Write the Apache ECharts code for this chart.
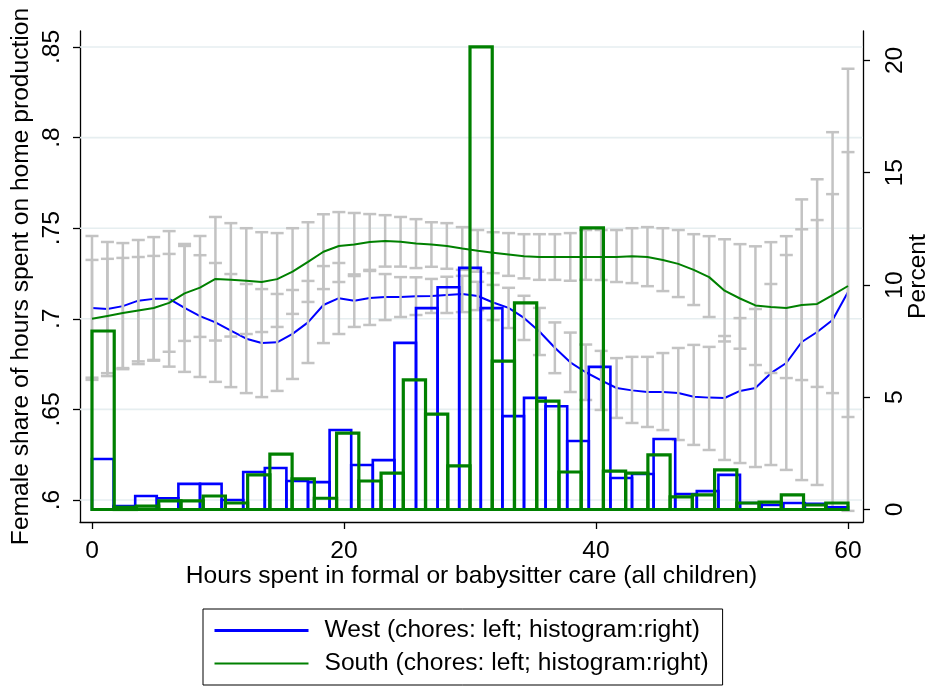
<!DOCTYPE html>
<html>
<head>
<meta charset="utf-8">
<script src="https://cdn.jsdelivr.net/npm/echarts@6/dist/echarts.min.js"></script>
<style>
  html, body { margin: 0; padding: 0; background: #fff; }
  #chart { width: 929px; height: 686px; }
</style>
</head>
<body>
<div id="chart"></div>
<script>
// Local polynomial fits of the female share of chores, evaluated on a 50-point grid over 0-60 hours
const gridPoints = 50;
const gridMax = 60;
const fitHours = Array.from({ length: gridPoints }, (_, i) => gridMax * i / (gridPoints - 1));

const westFit = [.706, .7054, .707, .710, .711, .711, .706, .7015, .698, .6935,
  .689, .6866, .687, .6917, .698, .7076, .7114, .710, .7115, .712,
  .712, .7125, .7126, .7132, .7137, .7126, .709, .706, .7005, .693,
  .684, .676, .6705, .666, .6618, .6605, .6596, .6596, .659, .657,
  .6565, .6563, .6602, .6618, .670, .6756, .6872, .6927, .6993, .7148];
const westLo = [.6663, .6684, .6722, .6765, .6769, .6736, .6707, .6679, .6652, .6623,
  .659, .6568, .6602, .6668, .6756, .6866, .6916, .6955, .6966, .6993,
  .701, .7021, .7032, .7032, .7037, .7048, .6993, .6949, .6883, .680,
  .670, .6596, .6552, .6497, .6453, .6425, .6403, .6386, .6331, .6304,
  .6276, .6221, .6204, .6182, .6193, .6166, .611, .6083, .5956, .594];
const westHi = [.7457, .7424, .7418, .7435, .7451, .7484, .7413, .7351, .7308, .7247,
  .7192, .7164, .7137, .7159, .7209, .7291, .7308, .7245, .7264, .7247,
  .723, .7229, .722, .7232, .7237, .7204, .7187, .7171, .7127, .706,
  .698, .6924, .6858, .6823, .6783, .679, .679, .6811, .6839, .6856,
  .6845, .6905, .7004, .7054, .7192, .7352, .7659, .777, .803, .838];

const southFit = [.700, .7016, .7032, .7046, .706, .7088, .714, .7172, .722, .7215,
  .721, .7203, .7219, .726, .7314, .737, .7402, .741, .7424, .743,
  .7425, .7415, .741, .7402, .7388, .7375, .7365, .7355, .7345, .7341,
  .7341, .7341, .7341, .7341, .7341, .7345, .7341, .7325, .7303, .727,
  .723, .7155, .7112, .7074, .7065, .706, .7076, .7082, .7131, .7181];
const southLo = [.6675, .670, .6728, .675, .6773, .6818, .6878, .690, .688, .6902,
  .6916, .6927, .6955, .7027, .7093, .7164, .7203, .7236, .727, .7288,
  .7288, .728, .7287, .7276, .727, .726, .7252, .7237, .7223, .7215,
  .7215, .721, .7215, .7214, .7203, .7197, .718, .7153, .712, .7076,
  .701, .6875, .6835, .6745, .6701, .6673, .6662, .6624, .659, .6458];
const southHi = [.7325, .7331, .7336, .7341, .7347, .7358, .7402, .7457, .7562, .7528,
  .750, .7478, .7473, .750, .7533, .7577, .7589, .7584, .7578, .7572,
  .7562, .755, .7533, .7528, .7506, .749, .7478, .7473, .7467, .7467,
  .7467, .7473, .749, .749, .749, .750, .7506, .750, .749, .7467,
  .7456, .7439, .7412, .740, .7423, .7456, .7494, .7545, .7688, .792];

// Histograms of care hours (percent of each region's sample), equal-width bins over 0-60
const westHist = [2.25, 0.15, 0.6, 0.5, 1.14, 1.14, 0.42, 1.67, 1.85, 1.27,
  1.22, 3.54, 1.98, 2.2, 7.42, 8.97, 9.9, 10.76, 8.97, 4.16,
  4.97, 4.6, 3.05, 6.35, 1.4, 1.58, 3.14, 0.69, 0.82, 1.54,
  0.29, 0.2, 0.29, 0.25, 0.1];
const southHist = [7.95, 0.1, 0.15, 0.38, 0.38, 0.6, 0.29, 1.54, 2.47, 1.36,
  0.5, 3.4, 1.27, 1.62, 5.77, 4.25, 1.94, 20.6, 6.61, 9.2,
  4.83, 1.67, 12.54, 1.71, 1.62, 2.43, 0.56, 0.65, 1.76, 0.29,
  0.33, 0.65, 0.2, 0.29];

// Axis ticks and labels
const xTicks = [0, 20, 40, 60];
const leftTicks = [0.6, 0.65, 0.7, 0.75, 0.8, 0.85];
const leftTickLabels = ['.6', '.65', '.7', '.75', '.8', '.85'];
const rightTicks = [0, 5, 10, 15, 20];

const westName = 'West (chores: left; histogram:right)';
const southName = 'South (chores: left; histogram:right)';
const xTitle = 'Hours spent in formal or babysitter care (all children)';
const leftTitle = 'Female share of hours spent on home production';
const rightTitle = 'Percent';

const FONT = '"Liberation Sans", Arial, Helvetica, sans-serif';
const FS = 24.6;
const BLUE = '#0000ff';
const GREEN = '#008000';
const GRAY = '#c3c3c3';

function histData(values) {
  const w = gridMax / values.length;
  return values.map((h, k) => [k * w, (k + 1) * w, h]);
}

function ciData(lo, hi) {
  return fitHours.map((x, i) => [x, lo[i], hi[i]]);
}

function renderCap(params, api) {
  const x = api.value(0);
  const lo = api.coord([x, api.value(1)]);
  const hi = api.coord([x, api.value(2)]);
  const w = 6.5;
  const style = { stroke: GRAY, lineWidth: 2.5, fill: null };
  return {
    type: 'group',
    children: [
      { type: 'line', shape: { x1: lo[0], y1: lo[1], x2: hi[0], y2: hi[1] }, style },
      { type: 'line', shape: { x1: lo[0] - w, y1: lo[1], x2: lo[0] + w, y2: lo[1] }, style },
      { type: 'line', shape: { x1: hi[0] - w, y1: hi[1], x2: hi[0] + w, y2: hi[1] }, style }
    ]
  };
}

function barRenderer(color, width) {
  return function (params, api) {
    const p0 = api.coord([api.value(0), api.value(2)]);
    const p1 = api.coord([api.value(1), 0]);
    return {
      type: 'rect',
      shape: { x: p0[0], y: p0[1], width: p1[0] - p0[0], height: p1[1] - p0[1] },
      style: { fill: 'none', stroke: color, lineWidth: width }
    };
  };
}

function renderGridLine(params, api) {
  const cs = params.coordSys;
  const p = api.coord([0, api.value(1)]);
  return {
    type: 'line',
    shape: { x1: cs.x, y1: p[1], x2: cs.x + cs.width, y2: p[1] },
    style: { stroke: '#e6eef0', lineWidth: 1.6 }
  };
}

const axisText = { fontFamily: FONT, fontSize: FS, color: '#000' };
const axisLineStyle = { show: true, onZero: false, lineStyle: { color: '#000', width: 1.3 } };

const option = {
  animation: false,
  backgroundColor: '#fff',
  grid: { left: 80, right: 66, top: 31, bottom: 164, containLabel: false, outerBoundsMode: 'none' },
  xAxis: {
    type: 'value',
    min: -0.952,
    max: 61.19,
    name: xTitle,
    nameLocation: 'middle',
    nameGap: 42,
    nameMoveOverlap: false,
    nameTextStyle: axisText,
    axisLine: axisLineStyle,
    axisTick: { show: true, customValues: xTicks, length: 7, lineStyle: { color: '#000', width: 1.3 } },
    axisLabel: { customValues: xTicks, margin: 17, ...axisText },
    splitLine: { show: false }
  },
  yAxis: [
    {
      type: 'value',
      position: 'left',
      min: 0.58786,
      max: 0.85883,
      name: leftTitle,
      nameLocation: 'middle',
      nameGap: 46,
      nameRotate: 90,
      nameMoveOverlap: false,
      nameTextStyle: axisText,
      axisLine: axisLineStyle,
      axisTick: { show: true, customValues: leftTicks, length: 7, lineStyle: { color: '#000', width: 1.3 } },
      axisLabel: {
        customValues: leftTicks,
        rotate: 90,
        margin: 15,
        formatter: v => leftTickLabels[leftTicks.findIndex(t => Math.abs(t - v) < 1e-6)],
        ...axisText
      },
      splitLine: { show: false }
    },
    {
      type: 'value',
      position: 'right',
      min: -0.557,
      max: 21.31,
      name: rightTitle,
      nameLocation: 'middle',
      nameGap: 43,
      nameRotate: 90,
      nameMoveOverlap: false,
      nameTextStyle: axisText,
      axisLine: axisLineStyle,
      axisTick: { show: true, customValues: rightTicks, length: 7, lineStyle: { color: '#000', width: 1.3 } },
      axisLabel: { customValues: rightTicks, rotate: 90, margin: 20, ...axisText },
      splitLine: { show: false }
    }
  ],
  legend: {
    orient: 'vertical',
    left: 203,
    top: 609,
    data: [
      { name: westName, lineStyle: { width: 3 } },
      { name: southName, lineStyle: { width: 2.2 } }
    ],
    selectedMode: false,
    itemWidth: 94,
    itemHeight: 24,
    itemGap: 8,
    padding: [9, 14, 9, 10],
    borderColor: '#000',
    borderWidth: 1,
    borderRadius: 0,
    itemStyle: { opacity: 0 },
    textStyle: { fontFamily: FONT, fontSize: FS, color: '#000', padding: [0, 0, 0, 11] }
  },
  series: [
    {
      type: 'custom',
      name: 'grid',
      renderItem: renderGridLine,
      data: leftTicks.map(v => [0, v]),
      encode: { x: 0, y: 1 },
      yAxisIndex: 0,
      silent: true,
      z: 1
    },
    {
      type: 'line',
      name: westName,
      data: fitHours.map((x, i) => [x, westFit[i]]),
      yAxisIndex: 0,
      symbol: 'none',
      showSymbol: false,
      lineStyle: { color: BLUE, width: 2 },
      itemStyle: { color: BLUE },
      z: 2
    },
    {
      type: 'custom',
      name: 'West CI',
      renderItem: renderCap,
      data: ciData(westLo, westHi),
      encode: { x: 0, y: [1, 2] },
      yAxisIndex: 0,
      z: 3
    },
    {
      type: 'custom',
      name: 'South CI',
      renderItem: renderCap,
      data: ciData(southLo, southHi),
      encode: { x: 0, y: [1, 2] },
      yAxisIndex: 0,
      z: 3
    },
    {
      type: 'line',
      name: southName,
      data: fitHours.map((x, i) => [x, southFit[i]]),
      yAxisIndex: 0,
      symbol: 'none',
      showSymbol: false,
      lineStyle: { color: GREEN, width: 2 },
      itemStyle: { color: GREEN },
      z: 4
    },
    {
      type: 'custom',
      name: 'West histogram',
      renderItem: barRenderer(BLUE, 2.6),
      data: histData(westHist),
      encode: { x: [0, 1], y: 2 },
      yAxisIndex: 1,
      z: 5
    },
    {
      type: 'custom',
      name: 'South histogram',
      renderItem: barRenderer(GREEN, 3.2),
      data: histData(southHist),
      encode: { x: [0, 1], y: 2 },
      yAxisIndex: 1,
      z: 6
    }
  ]
};

const chart = echarts.init(document.getElementById('chart'), null, { renderer: 'canvas' });
chart.setOption(option);
</script>
</body>
</html>
